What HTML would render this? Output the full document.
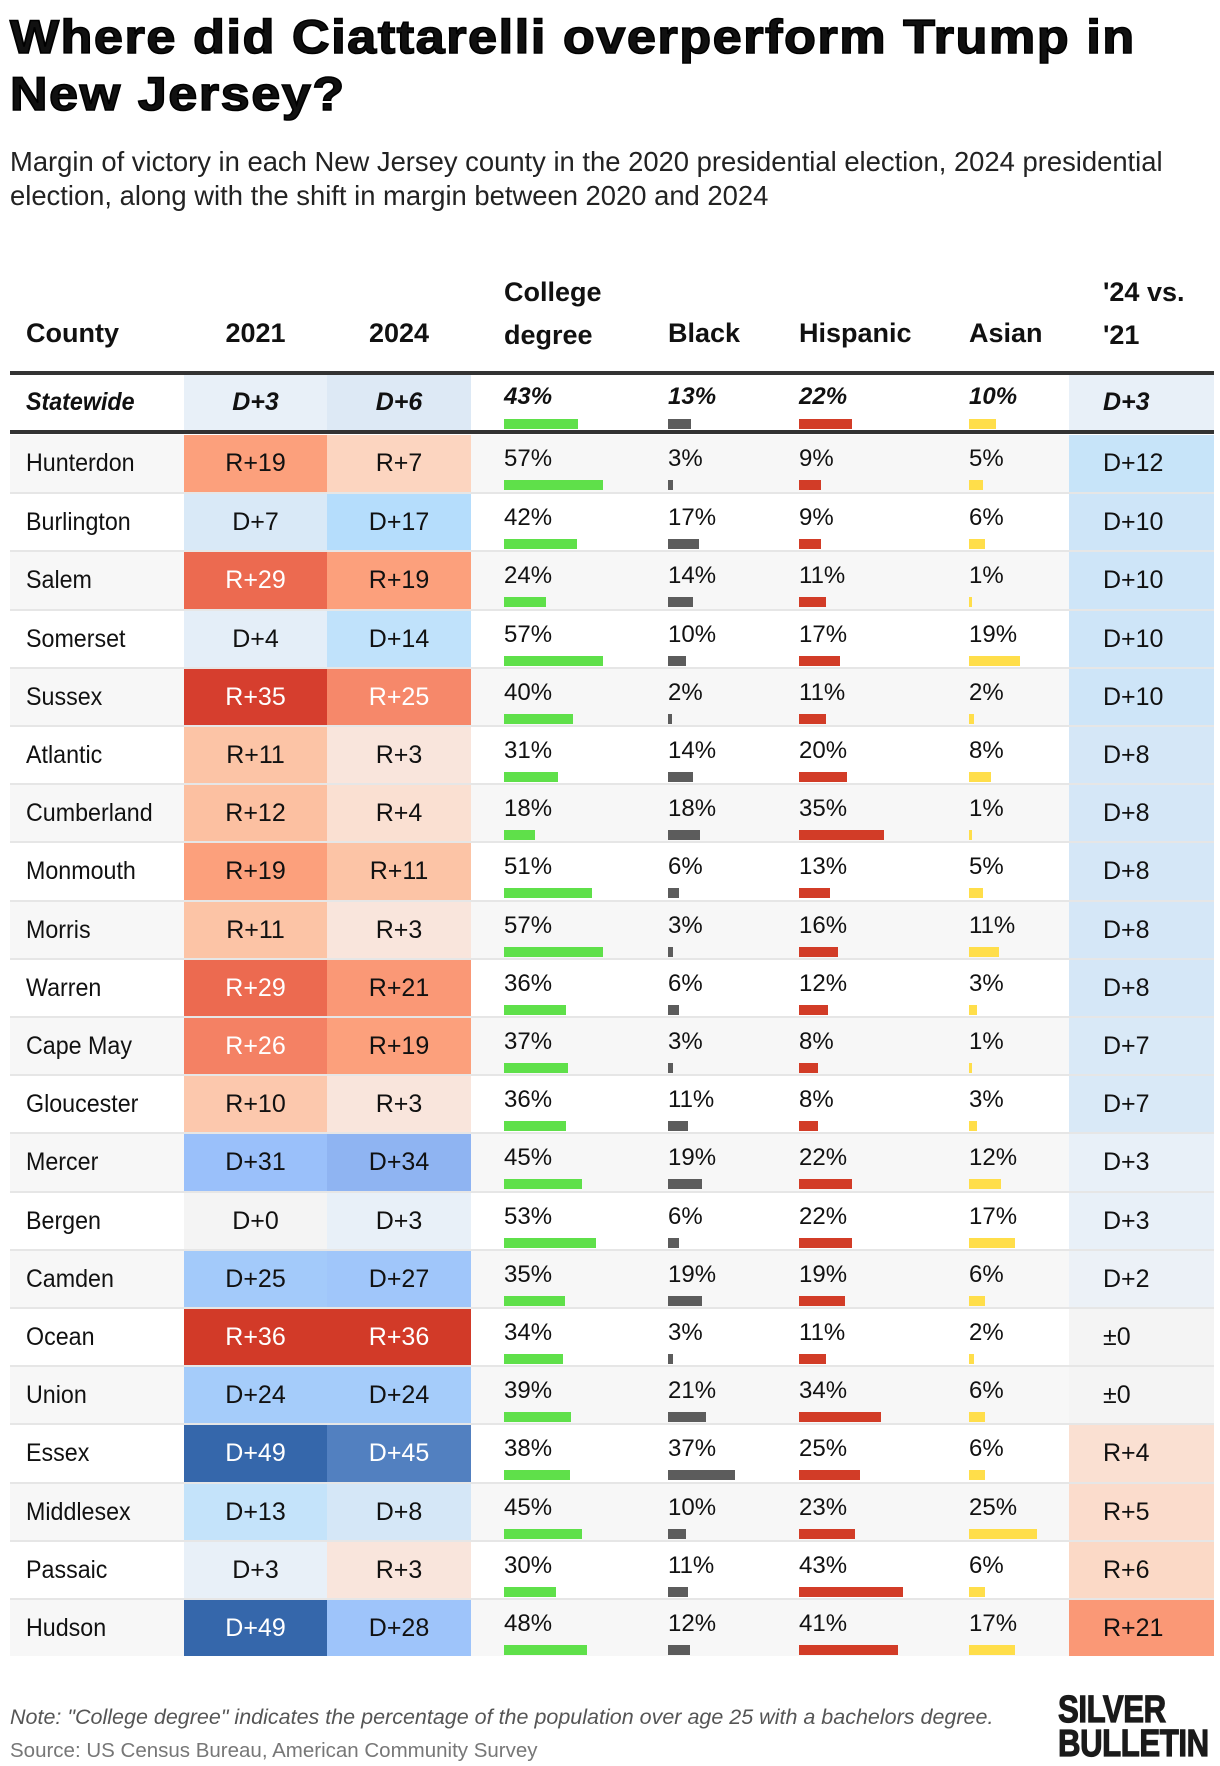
<!DOCTYPE html>
<html><head><meta charset="utf-8">
<style>
html,body{margin:0;padding:0;background:#fff;}
body{width:1220px;height:1766px;position:relative;overflow:hidden;font-family:"Liberation Sans",sans-serif;color:#111;}
.abs{position:absolute;}
#title{left:10px;top:8px;font-size:47px;font-weight:900;line-height:57px;letter-spacing:1.5px;-webkit-text-stroke:1.6px #000;margin:0;transform:scaleX(1.105);transform-origin:left top;white-space:nowrap;}
#subtitle{left:10px;top:145px;font-size:27.4px;line-height:34px;color:#222;width:1180px;}
.hd{font-family:"Liberation Sans Narrow","Liberation Sans",sans-serif;font-weight:700;font-size:27px;color:#111;}
#note{left:10px;top:1705px;font-size:21.5px;font-style:italic;color:#555;}
#source{left:10px;top:1739px;font-size:20.5px;color:#777;}
#logo{left:1058px;top:1693px;font-size:38px;font-weight:900;line-height:34px;color:#1a1a1a;transform:scaleX(0.82);transform-origin:left top;letter-spacing:-0.5px;-webkit-text-stroke:1.2px #1a1a1a;}
</style></head>
<body>
<h1 id="title" class="abs">Where did Ciattarelli overperform Trump in<br>New Jersey?</h1>
<div id="subtitle" class="abs">Margin of victory in each New Jersey county in the 2020 presidential election, 2024 presidential election, along with the shift in margin between 2020 and 2024</div>

<div class="abs hd" style="left:26px;top:318px">County</div>
<div class="abs hd" style="left:184px;width:143px;text-align:center;top:318px">2021</div>
<div class="abs hd" style="left:327px;width:144px;text-align:center;top:318px">2024</div>
<div class="abs hd" style="left:504px;top:271px;line-height:43px">College<br>degree</div>
<div class="abs hd" style="left:668px;top:318px">Black</div>
<div class="abs hd" style="left:799px;top:318px">Hispanic</div>
<div class="abs hd" style="left:969px;top:318px">Asian</div>
<div class="abs hd" style="left:1103px;top:271px;line-height:43px">'24 vs.<br>'21</div>

<div id="table"></div>

<div id="note" class="abs">Note: "College degree" indicates the percentage of the population over age 25 with a bachelors degree.</div>
<div id="source" class="abs">Source: US Census Bureau, American Community Survey</div>
<div id="logo" class="abs">SILVER<br>BULLETIN</div>

<script>
// Data (D positive, R negative)
const counties = ["Hunterdon","Burlington","Salem","Somerset","Sussex","Atlantic","Cumberland","Monmouth","Morris","Warren","Cape May","Gloucester","Mercer","Bergen","Camden","Ocean","Union","Essex","Middlesex","Passaic","Hudson"];
const margin2021 = [-19,7,-29,4,-35,-11,-12,-19,-11,-29,-26,-10,31,0,25,-36,24,49,13,3,49];
const margin2024 = [-7,17,-19,14,-25,-3,-4,-11,-3,-21,-19,-3,34,3,27,-36,24,45,8,-3,28];
const college = [57,42,24,57,40,31,18,51,57,36,37,36,45,53,35,34,39,38,45,30,48];
const black = [3,17,14,10,2,14,18,6,3,6,3,11,19,6,19,3,21,37,10,11,12];
const hispanic = [9,9,11,17,11,20,35,13,16,12,8,8,22,22,19,11,34,25,23,43,41];
const asian = [5,6,1,19,2,8,1,5,11,3,1,3,12,17,6,2,6,6,25,6,17];
const shift = [12,10,10,10,10,8,8,8,8,8,7,7,3,3,2,0,0,-4,-5,-6,-21];
const statewide = {m2021:3, m2024:6, college:43, black:13, hispanic:22, asian:10, shift:3};

const T = document.getElementById('table');
const X0=10, X1=1214, C1=184, C2=327, C3=471, C6=1069;
const PCT_X=[504,668,799,969];
const SCALE=[1.73,1.8,2.42,2.7];
const BAR_COL=["#5fe04a","#5c5c5c","#d23c27","#ffde4a"];
const NARROW="font-family:'Liberation Sans Narrow','Liberation Sans',sans-serif;";

const dStops=[[0,[244,244,244]],[3,[232,240,248]],[8,[213,231,247]],[13,[196,227,250]],[17,[181,221,252]],[24,[165,204,250]],[28,[158,196,250]],[31,[154,192,250]],[34,[143,180,242]],[45,[82,128,192]],[49,[53,103,171]]];
const rStops=[[0,[244,244,244]],[3,[249,229,220]],[4,[250,224,210]],[7,[252,213,192]],[11,[252,196,166]],[19,[252,160,124]],[21,[250,152,118]],[25,[246,136,106]],[29,[236,106,80]],[35,[214,62,46]],[36,[210,58,40]]];
function interp(stops,v){
  if(v<=stops[0][0])return stops[0][1];
  for(let i=1;i<stops.length;i++){
    if(v<=stops[i][0]){const [a,ca]=stops[i-1],[b,cb]=stops[i];const t=(v-a)/(b-a);return ca.map((c,k)=>Math.round(c+(cb[k]-c)*t));}
  }
  return stops[stops.length-1][1];
}
function color(v){const c=v>=0?interp(dStops,v):interp(rStops,-v);return `rgb(${c[0]},${c[1]},${c[2]})`;}
function textCol(v){return (v>=45||v<=-25)?"#fff":"#111";}
function label(v,isShift){if(v===0)return isShift?"±0":"D+0";return (v>0?"D+":"R+")+Math.abs(v);}

function div(parent,style){const d=document.createElement('div');d.style.cssText='position:absolute;'+style;parent.appendChild(d);return d;}

function makeRow(y,h,rowData,idx,isState){
  const row=div(T,`left:${X0}px;top:${y}px;width:${X1-X0}px;height:${h}px;background:${isState?'#fff':(idx%2===0?'#f7f7f7':'#fff')};`);
  
  
  const it=isState?'font-style:italic;font-weight:700;':'';
  const nm=div(T,`left:26px;top:${y}px;height:${h}px;line-height:${h}px;${NARROW}font-size:25px;transform:scaleX(0.93);transform-origin:left center;${it}`);
  nm.textContent=rowData.name;
  
  
  const cells=[[C1,C2,rowData.m2021],[C2,C3,rowData.m2024]];
  cells.forEach(([a,b,v],k)=>{
    const bg=isState?(k===0?'#e8f0f8':'#dde9f5'):color(v);
    const c=div(T,`left:${a}px;top:${y}px;width:${b-a}px;height:${h}px;line-height:${h}px;text-align:center;background:${bg};color:${isState?'#111':textCol(v)};${NARROW}font-size:25px;${it}`);
    c.textContent=label(v,false);
    
    
  });
  const sc=div(T,`left:${C6}px;top:${y}px;width:${X1-C6}px;height:${h}px;line-height:${h}px;background:${isState?'#e8f0f8':color(rowData.shift)};color:#111;${NARROW}font-size:25px;${it}`);
  const sct=document.createElement('span');sct.style.cssText='position:absolute;left:34px;';sct.textContent=label(rowData.shift,true);sc.appendChild(sct);
  
  
  const vals=[rowData.college,rowData.black,rowData.hispanic,rowData.asian];
  const names=['college','black','hispanic','asian'];
  vals.forEach((v,k)=>{
    const p=div(T,`left:${PCT_X[k]}px;top:${y+(isState?8:10)}px;${NARROW}font-size:24px;line-height:28px;${it}`);
    p.textContent=v+'%';
    
    
    const w=Math.max(2,v*SCALE[k]);
    const b=div(T,`left:${PCT_X[k]}px;top:${y+(isState?44:45)}px;width:${w}px;height:10px;background:${BAR_COL[k]};`);
    
    
  });
}

const r1=div(T,`left:${X0}px;top:371px;width:${X1-X0}px;height:4px;background:#333;`);


makeRow(375,55,{name:'Statewide',m2021:statewide.m2021,m2024:statewide.m2024,college:statewide.college,black:statewide.black,hispanic:statewide.hispanic,asian:statewide.asian,shift:statewide.shift},0,true);
const r2=div(T,`left:${X0}px;top:430px;width:${X1-X0}px;height:4px;background:#333;`);



const RH=58.2, Y0=434;
counties.forEach((n,i)=>{
  const y=Math.round(Y0+i*RH);
  makeRow(y+(i>0?2:1),Math.round(Y0+(i+1)*RH)-y-(i>0?2:1),{name:n,m2021:margin2021[i],m2024:margin2024[i],college:college[i],black:black[i],hispanic:hispanic[i],asian:asian[i],shift:shift[i]},i,false);
  if(i>0){const s=div(T,`left:${X0}px;top:${y}px;width:${X1-X0}px;height:2px;background:#e6e6e6;`);
    
    }
});
</script>
</body></html>
